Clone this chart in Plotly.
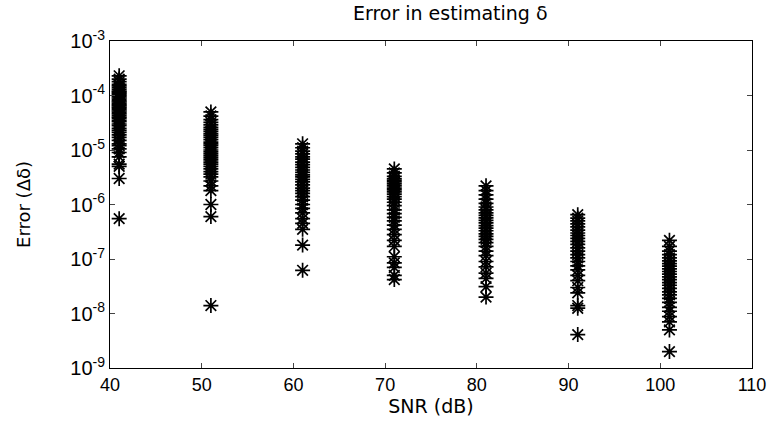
import plotly.graph_objects as go

snr = [41, 51, 61, 71, 81, 91, 101]

err_41 = [2.3e-4, 2.0e-4, 1.8e-4, 1.6e-4, 1.5e-4, 1.4e-4, 1.3e-4, 1.2e-4, 1.15e-4, 1.1e-4,
          1.05e-4, 1.0e-4, 9.5e-5, 9.0e-5, 8.5e-5, 8.0e-5, 7.6e-5, 7.2e-5, 6.8e-5, 6.5e-5,
          6.1e-5, 5.8e-5, 5.5e-5, 5.2e-5, 4.9e-5, 4.6e-5, 4.3e-5, 4.0e-5, 3.8e-5, 3.5e-5,
          3.3e-5, 3.0e-5, 2.8e-5, 2.5e-5, 2.3e-5, 2.1e-5, 1.9e-5, 1.7e-5, 1.5e-5, 1.3e-5,
          1.2e-5, 1.05e-5, 9.0e-6, 7.5e-6, 5.5e-6, 5.0e-6, 3.0e-6, 5.5e-7]
err_51 = [5.0e-5, 4.2e-5, 3.6e-5, 3.2e-5, 2.9e-5, 2.6e-5, 2.4e-5, 2.2e-5, 2.0e-5, 1.85e-5,
          1.7e-5, 1.55e-5, 1.4e-5, 1.3e-5, 1.2e-5, 1.1e-5, 1.0e-5, 9.2e-6, 8.5e-6, 7.8e-6,
          7.2e-6, 6.6e-6, 6.0e-6, 5.5e-6, 5.0e-6, 4.5e-6, 4.0e-6, 3.6e-6, 3.2e-6, 2.7e-6,
          2.2e-6, 1.8e-6, 1.0e-6, 6.0e-7, 1.4e-8]
err_61 = [1.3e-5, 1.1e-5, 9.5e-6, 8.5e-6, 7.5e-6, 6.8e-6, 6.0e-6, 5.4e-6, 4.8e-6, 4.3e-6,
          3.9e-6, 3.5e-6, 3.2e-6, 2.9e-6, 2.6e-6, 2.3e-6, 2.0e-6, 1.8e-6, 1.6e-6, 1.4e-6,
          1.2e-6, 1.0e-6, 8.5e-7, 7.0e-7, 5.5e-7, 4.5e-7, 3.5e-7, 1.8e-7, 6.2e-8]
err_71 = [4.5e-6, 3.8e-6, 3.3e-6, 3.0e-6, 2.8e-6, 2.6e-6, 2.4e-6, 2.2e-6, 2.0e-6, 1.85e-6,
          1.7e-6, 1.55e-6, 1.4e-6, 1.25e-6, 1.1e-6, 9.5e-7, 8.0e-7, 6.8e-7, 5.8e-7, 5.0e-7,
          4.2e-7, 3.5e-7, 2.8e-7, 2.2e-7, 1.7e-7, 1.1e-7, 8.5e-8, 7.0e-8, 5.0e-8, 4.2e-8]
err_81 = [2.2e-6, 1.8e-6, 1.5e-6, 1.25e-6, 1.05e-6, 9.0e-7, 8.0e-7, 7.0e-7, 6.3e-7, 5.7e-7,
          5.1e-7, 4.6e-7, 4.1e-7, 3.7e-7, 3.3e-7, 2.9e-7, 2.6e-7, 2.3e-7, 2.0e-7, 1.7e-7,
          1.4e-7, 1.15e-7, 9.0e-8, 7.2e-8, 5.5e-8, 4.4e-8, 3.1e-8, 2.0e-8]
err_91 = [6.5e-7, 5.6e-7, 5.0e-7, 4.4e-7, 3.9e-7, 3.4e-7, 3.0e-7, 2.7e-7, 2.4e-7, 2.1e-7,
          1.85e-7, 1.6e-7, 1.4e-7, 1.2e-7, 1.05e-7, 9.0e-8, 7.5e-8, 6.3e-8, 5.0e-8, 4.0e-8,
          3.0e-8, 2.4e-8, 1.4e-8, 1.25e-8, 4.1e-9]
err_101 = [2.2e-7, 1.7e-7, 1.4e-7, 1.2e-7, 1.05e-7, 9.2e-8, 8.2e-8, 7.4e-8, 6.6e-8, 5.9e-8,
           5.3e-8, 4.7e-8, 4.2e-8, 3.7e-8, 3.3e-8, 2.9e-8, 2.5e-8, 2.2e-8, 1.9e-8, 1.6e-8,
           1.3e-8, 1.1e-8, 8.8e-9, 7.0e-9, 5.0e-9, 2.0e-9]

groups = [err_41, err_51, err_61, err_71, err_81, err_91, err_101]

x_ticks = [40, 50, 60, 70, 80, 90, 100, 110]
y_ticks = [1e-9, 1e-8, 1e-7, 1e-6, 1e-5, 1e-4, 1e-3]
y_exponents = ["-9", "-8", "-7", "-6", "-5", "-4", "-3"]
y_ticktext = ["10<sup>%s</sup>" % e for e in y_exponents]

xs, ys = [], []
for s, g in zip(snr, groups):
    xs += [s] * len(g)
    ys += g

fig = go.Figure()
fig.add_trace(go.Scatter(
    x=xs, y=ys, mode="markers",
    marker=dict(symbol="asterisk-open", size=12.5, color="black",
                line=dict(color="black", width=1.7)),
    showlegend=False,
))

arial = "Liberation Sans, Arial, sans-serif"
wide = "DejaVu Sans, Verdana, sans-serif"

fig.update_layout(
    width=778, height=428,
    margin=dict(l=110, r=21, t=41, b=60),
    paper_bgcolor="white", plot_bgcolor="white",
    font=dict(family=arial, size=18, color="black"),
    title=dict(text="Error in estimating δ", x=0.53, xref="paper", xanchor="center",
               y=0.968, yanchor="middle",
               font=dict(family=wide, size=19, color="black")),
    xaxis=dict(range=[40, 110], tickvals=x_ticks, ticks="inside", ticklen=5,
               showline=True, linecolor="black", linewidth=1, mirror="ticks",
               showgrid=False, zeroline=False,
               tickfont=dict(family=arial, size=18, color="black"),
               title=dict(text="SNR (dB)", standoff=2,
                          font=dict(family=wide, size=19, color="black"))),
    yaxis=dict(type="log", range=[-9, -3], tickvals=y_ticks, ticktext=y_ticktext,
               ticks="inside", ticklen=5, showline=True, linecolor="black", linewidth=1,
               mirror="ticks", showgrid=False, zeroline=False,
               tickfont=dict(family=arial, size=20, color="black"),
               title=dict(text="Error (Δδ)", standoff=34,
                          font=dict(family=wide, size=18, color="black"))),
)

fig.write_html("out.html")
